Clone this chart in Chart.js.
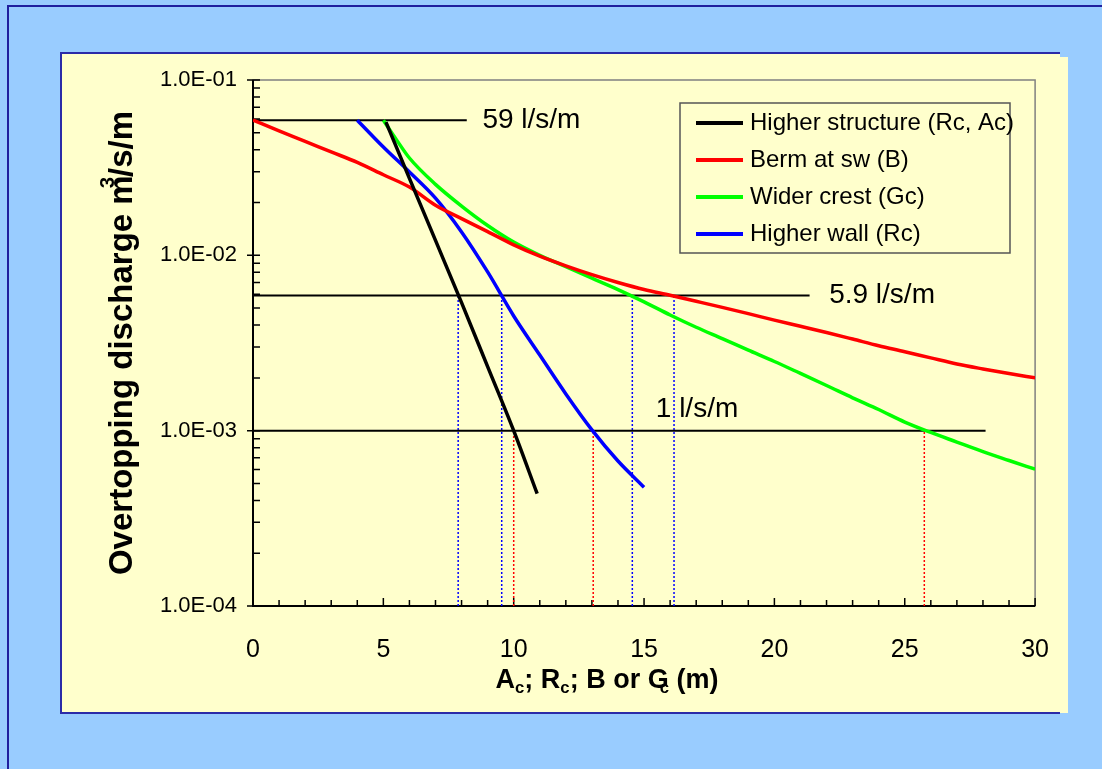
<!DOCTYPE html>
<html lang="en">
<head>
<meta charset="UTF-8">
<title>Overtopping discharge</title>
<script src="https://cdn.jsdelivr.net/npm/chart.js"></script>
<style>
  html, body { margin: 0; padding: 0; width: 1102px; height: 769px; overflow: hidden; background: #99ccff; }
  #slide { position: absolute; left: 7px; top: 5px; width: 1110px; height: 790px; box-sizing: border-box;
           border-left: 2px solid #1f1f9f; border-top: 2px solid #1f1f9f; }
  #shadow { position: absolute; left: 68px; top: 57px; width: 1000px; height: 656px; background: #ffffcc; }
  #panel { position: absolute; left: 60px; top: 52px; width: 1000px; height: 662px; background: #ffffcc;
           box-sizing: border-box; border: 2px solid #2b2ba8; border-right: none; }
  #chartBox { position: absolute; left: 60px; top: 52px; width: 1010px; height: 662px; }
</style>
</head>
<body>
<div id="slide"></div>
<div id="shadow"></div>
<div id="panel"></div>
<div id="chartBox"><canvas id="chart" width="1010" height="662"></canvas></div>
<script>
// values
const structX = [5.1, 6, 7, 8, 9, 10, 10.9];
const structQ = [0.0575, 0.0275, 0.01216, 0.00537, 0.00232, 0.00100, 0.000437];

const bermX = [0, 1, 2, 3, 4, 5, 6, 7, 8, 9, 10, 11, 12, 13, 14, 15, 16, 17, 18, 19, 20, 21, 22, 23, 24, 25, 26, 27, 28, 29, 30];
const bermQ = [0.0590, 0.0513, 0.0447, 0.0389, 0.0339, 0.0288, 0.0245, 0.0193, 0.0162, 0.01365, 0.01148,
               0.00989, 0.00871, 0.00776, 0.00700, 0.00638, 0.00592, 0.00547, 0.00505, 0.00465, 0.00427,
               0.00394, 0.00363, 0.00333, 0.00305, 0.00282, 0.00260, 0.00240, 0.00225, 0.00212, 0.00200];

const crestX = [5, 5.5, 6, 7, 8, 9, 10, 11, 12, 13, 14, 15, 16, 17, 18, 19, 20, 21, 22, 23, 24, 25, 26, 27, 28, 29, 30];
const crestQ = [0.0590, 0.0457, 0.0359, 0.0254, 0.0191, 0.0148, 0.0119, 0.0100, 0.00861, 0.00741, 0.00638,
                0.00543, 0.00457, 0.00389, 0.00335, 0.00288, 0.00248, 0.00212, 0.00181, 0.00154, 0.00132,
                0.00112, 0.000977, 0.000861, 0.000759, 0.000676, 0.000603];

const wallX = [4, 5, 6, 7, 8, 9, 10, 11, 12, 13, 14, 15];
const wallQ = [0.0590, 0.0415, 0.0299, 0.0212, 0.0136, 0.00804, 0.00451, 0.00270, 0.00162, 0.00101, 0.000671, 0.000476];

const seriesNames = ['Higher structure (Rc, Ac)', 'Berm at sw (B)', 'Wider crest (Gc)', 'Higher wall (Rc)'];
const seriesColors = ['#000000', '#ff0000', '#00ff00', '#0000ff'];

// limit lines and their labels
const limitQ = [0.059, 0.0059, 0.001];
const limitEndX = [8.2, 21.35, 28.1];
const limitText = ['59 l/s/m', '5.9 l/s/m', '1 l/s/m'];
const limitTextX = [8.8, 22.1, 15.45];

// dotted drops to the x axis
const blueDropX = [7.87, 9.54, 14.55, 16.15];   // up to 5.9 l/s/m
const redDropX = [10, 13.05, 25.75];            // up to 1 l/s/m

const xTickVals = [0, 5, 10, 15, 20, 25, 30];
const yTickVals = [1e-4, 1e-3, 1e-2, 1e-1];
const yMinorSteps = [2, 3, 4, 5, 6, 7, 8, 9];

const FONT = '"Liberation Sans", Arial, sans-serif';

function pts(xs, ys) { return xs.map((x, i) => ({ x: x, y: ys[i] })); }

const datasets = [];
[structX, bermX, crestX, wallX].forEach((xs, i) => {
  const ys = [structQ, bermQ, crestQ, wallQ][i];
  datasets.push({ label: seriesNames[i], data: pts(xs, ys), borderColor: seriesColors[i],
                  borderWidth: 3.5, cubicInterpolationMode: 'monotone' });
});
limitQ.forEach((q, i) => {
  datasets.push({ label: limitText[i], data: [{ x: 0, y: q }, { x: limitEndX[i], y: q }],
                  borderColor: '#000000', borderWidth: 2 });
});
blueDropX.forEach(x => {
  datasets.push({ label: 'drop', data: [{ x: x, y: 1e-4 }, { x: x, y: limitQ[1] }],
                  borderColor: '#0000ff', borderWidth: 1.5, borderDash: [2, 2] });
});
redDropX.forEach(x => {
  datasets.push({ label: 'drop', data: [{ x: x, y: 1e-4 }, { x: x, y: limitQ[2] }],
                  borderColor: '#ff0000', borderWidth: 1.5, borderDash: [2, 2] });
});

// text with sub/superscripts, drawn piece by piece
function richText(ctx, parts, x, y, size) {
  let w = 0;
  parts.forEach(p => {
    ctx.font = 'bold ' + (p.sub || p.sup ? size * 0.62 : size) + 'px ' + FONT;
    w += ctx.measureText(p.t).width + (p.dx || 0);
  });
  let cx = x - w / 2;
  parts.forEach(p => {
    ctx.font = 'bold ' + (p.sub || p.sup ? size * 0.62 : size) + 'px ' + FONT;
    let dy = p.sub ? size * 0.18 : (p.sup ? -size * 0.45 : 0);
    cx += (p.dx || 0);
    ctx.fillText(p.t, cx, y + dy);
    cx += ctx.measureText(p.t).width;
  });
}

const decor = {
  id: 'decor',
  beforeDatasetsDraw(chart) {
    const ctx = chart.ctx, a = chart.chartArea;
    const xs = chart.scales.x, ys = chart.scales.y;
    ctx.save();
    ctx.strokeStyle = '#808080';
    ctx.lineWidth = 1.5;
    ctx.strokeRect(a.left, a.top, a.right - a.left, a.bottom - a.top);
    ctx.strokeStyle = '#000000';
    ctx.lineWidth = 2;
    ctx.beginPath();
    ctx.moveTo(a.left, a.top);
    ctx.lineTo(a.left, a.bottom);
    ctx.lineTo(a.right, a.bottom);
    ctx.stroke();
    ctx.lineWidth = 1.5;
    ctx.beginPath();
    for (let v = 0; v <= 30; v++) {
      const px = xs.getPixelForValue(v);
      ctx.moveTo(px, a.bottom);
      ctx.lineTo(px, a.bottom - (v % 5 === 0 ? 8 : 6));
    }
    yTickVals.forEach((d, k) => {
      const py = ys.getPixelForValue(d);
      ctx.moveTo(a.left - 6, py);
      ctx.lineTo(a.left + 7, py);
      if (k < yTickVals.length - 1) {
        yMinorSteps.forEach(m => {
          const pm = ys.getPixelForValue(m * d);
          ctx.moveTo(a.left, pm);
          ctx.lineTo(a.left + 7, pm);
        });
      }
    });
    ctx.stroke();
    ctx.restore();
  },
  afterDatasetsDraw(chart) {
    const ctx = chart.ctx, a = chart.chartArea;
    const xs = chart.scales.x, ys = chart.scales.y;
    ctx.save();
    // limit labels
    ctx.fillStyle = '#000000';
    ctx.textBaseline = 'middle';
    ctx.textAlign = 'left';
    ctx.font = '28px ' + FONT;
    limitText.forEach((t, i) => {
      let py = ys.getPixelForValue(limitQ[i]);
      if (i === 2) py -= 21;
      ctx.fillText(t, xs.getPixelForValue(limitTextX[i]), py);
    });
    // legend box
    const lx = 620, ly = 51, lw = 330, lh = 150;
    ctx.fillStyle = '#ffffcc';
    ctx.fillRect(lx, ly, lw, lh);
    ctx.strokeStyle = '#555555';
    ctx.lineWidth = 1.5;
    ctx.strokeRect(lx, ly, lw, lh);
    ctx.font = '24px ' + FONT;
    seriesNames.forEach((name, i) => {
      const ry = ly + 20 + i * 37;
      ctx.strokeStyle = seriesColors[i];
      ctx.lineWidth = 4;
      ctx.beginPath();
      ctx.moveTo(lx + 16, ry);
      ctx.lineTo(lx + 63, ry);
      ctx.stroke();
      ctx.fillStyle = '#000000';
      ctx.fillText(name, lx + 70, ry);
    });
    // axis titles
    ctx.fillStyle = '#000000';
    ctx.textBaseline = 'alphabetic';
    ctx.textAlign = 'left';
    richText(ctx, [{ t: 'A' }, { t: 'c', sub: true }, { t: '; R' }, { t: 'c', sub: true },
                   { t: '; B or G' }, { t: 'c', sub: true, dx: -9 }, { t: ' (m)' }], 547, 636, 27);
    ctx.translate(63, (a.top + a.bottom) / 2);
    ctx.rotate(-Math.PI / 2);
    ctx.textBaseline = 'middle';
    richText(ctx, [{ t: 'Overtopping discharge m' }, { t: '3', sup: true, dx: -13 }, { t: '/s/m' }], 0, 0, 33);
    ctx.restore();
  }
};

new Chart(document.getElementById('chart'), {
  type: 'line',
  data: { datasets: datasets },
  options: {
    responsive: false,
    animation: false,
    devicePixelRatio: 1,
    layout: { padding: { left: 0, top: 28, right: 34, bottom: 0 } },
    elements: { point: { radius: 0 } },
    plugins: { legend: { display: false }, tooltip: { enabled: false } },
    scales: {
      x: {
        type: 'linear', min: 0, max: 30,
        grid: { display: false }, border: { display: false },
        afterBuildTicks: s => { s.ticks = xTickVals.map(v => ({ value: v })); },
        ticks: { color: '#000000', font: { family: FONT, size: 25 }, padding: 21, maxRotation: 0, autoSkip: false },
        afterFit: s => { s.height = 108; }
      },
      y: {
        type: 'logarithmic', min: 1e-4, max: 1e-1,
        grid: { display: false }, border: { display: false },
        afterBuildTicks: s => { s.ticks = yTickVals.map(v => ({ value: v })); },
        ticks: {
          color: '#000000', font: { family: FONT, size: 22 }, padding: 8, autoSkip: false,
          callback: v => '1.0E-' + String(-Math.round(Math.log10(v))).padStart(2, '0')
        },
        afterFit: s => { s.width = 193; }
      }
    }
  },
  plugins: [decor]
});
</script>
</body>
</html>
